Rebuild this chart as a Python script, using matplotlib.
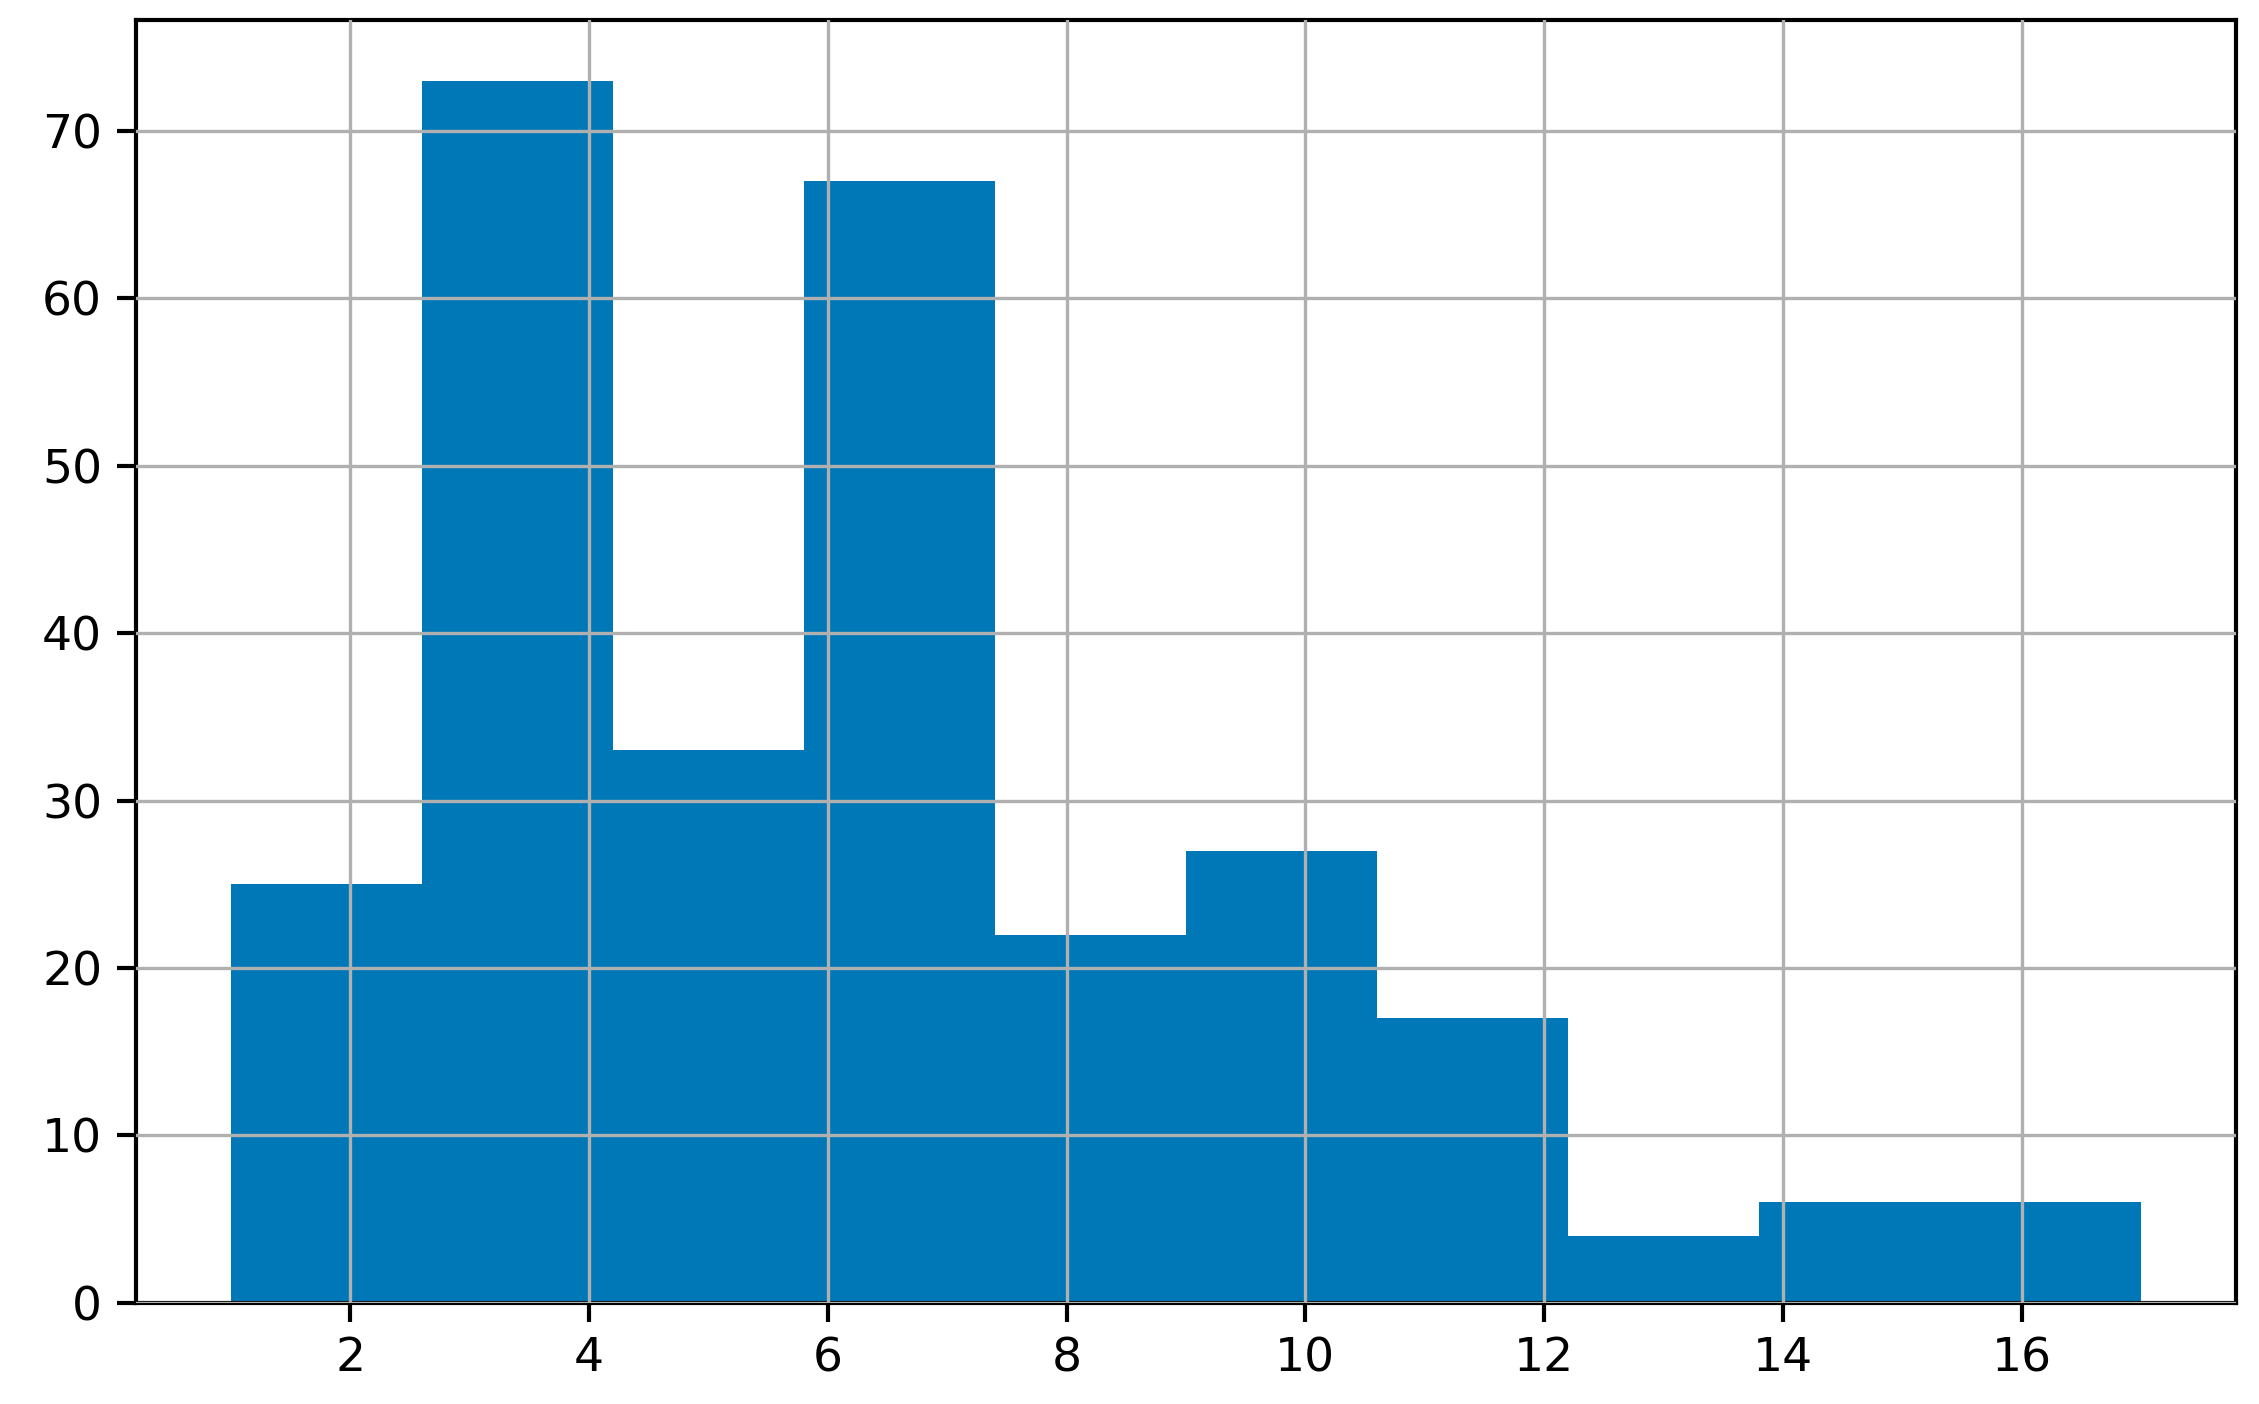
import matplotlib
matplotlib.use('Agg')
import matplotlib.pyplot as plt
import numpy as np

# дані гістограми: межі кошиків та кількості
bin_edges = [1.0, 2.6, 4.2, 5.8, 7.4, 9.0, 10.6, 12.2, 13.8, 15.4, 17.0]
counts = [25, 73, 33, 67, 22, 27, 17, 4, 6, 6]

x_ticks = [2, 4, 6, 8, 10, 12, 14, 16]
y_ticks = [0, 10, 20, 30, 40, 50, 60, 70]

fig = plt.figure(figsize=(22.59, 14.04), dpi=100)
ax = fig.add_axes([0.06, 0.072, 0.93, 0.914])

ax.hist(bin_edges[:-1], bins=bin_edges, weights=counts, color='#0077b6')

ax.set_axisbelow(False)
ax.grid(True, color='#b0b0b0', linewidth=2.4)

ax.set_xticks(x_ticks)
ax.set_yticks(y_ticks)
ax.tick_params(labelsize=34, width=3, length=14, pad=10)
for s in ax.spines.values():
    s.set_linewidth(3)

fig.savefig('out.png', dpi=100)
